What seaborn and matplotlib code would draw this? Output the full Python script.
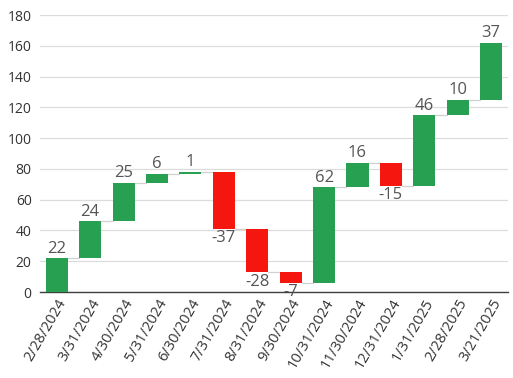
import numpy as np
import pandas as pd
import matplotlib
matplotlib.use("Agg")
import matplotlib.pyplot as plt
import seaborn as sns

dates = ["2/28/2024", "3/31/2024", "4/30/2024", "5/31/2024", "6/30/2024",
         "7/31/2024", "8/31/2024", "9/30/2024", "10/31/2024", "11/30/2024",
         "12/31/2024", "1/31/2025", "2/28/2025", "3/21/2025"]
changes = [22, 24, 25, 6, 1, -37, -28, -7, 62, 16, -15, 46, 10, 37]

sns.set_style("white")
plt.rcParams["font.family"] = ["Open Sans", "DejaVu Sans"]

green = "#27a052"
red = "#f5170f"

ends = np.cumsum(changes)
starts = ends - np.array(changes)
df = pd.DataFrame({"date": dates, "change": changes, "start": starts, "end": ends})

fig = plt.figure(figsize=(5.13, 3.78), dpi=100)
ax = fig.add_axes([0.078, 0.2275, 0.912, 0.7325])

sns.barplot(data=df, x="date", y="change", bottom=df["start"].values,
            color=green, width=0.66, ax=ax, zorder=3, linewidth=0)
for p, c in zip(ax.patches, changes):
    p.set_facecolor(green if c >= 0 else red)

# connectors
for i in range(len(dates) - 1):
    ax.plot([i + 0.33, i + 1 - 0.33], [ends[i], ends[i]], color="#d0d0d0",
            lw=0.9, zorder=2)

# labels
for i, c in enumerate(changes):
    if c >= 0:
        ax.text(i, ends[i] + 1.0, f"{c}", ha="center", va="bottom",
                fontsize=12, color="#555555", zorder=4)
    else:
        ax.text(i, ends[i] - 1.0, f"{c}", ha="center", va="top",
                fontsize=12, color="#555555", zorder=4)

ax.set_ylim(0, 180)
ax.set_xlim(-0.5, len(dates) - 0.5)
ax.set_yticks(range(0, 181, 20))
ax.yaxis.grid(True, color="#dcdcdc", lw=0.9, zorder=0)
ax.set_axisbelow(True)
for s in ["top", "right", "left"]:
    ax.spines[s].set_visible(False)
ax.spines["bottom"].set_color("#404040")
ax.spines["bottom"].set_linewidth(1.0)
ax.set_xlabel("")
ax.set_ylabel("")
ax.tick_params(axis="y", length=0, labelsize=10, colors="#333333", pad=6)
ax.tick_params(axis="x", length=0, labelsize=10.5, colors="#333333", pad=3)
plt.setp(ax.get_xticklabels(), rotation=60, ha="right", rotation_mode="anchor")

fig.savefig("out.png", dpi=100)
